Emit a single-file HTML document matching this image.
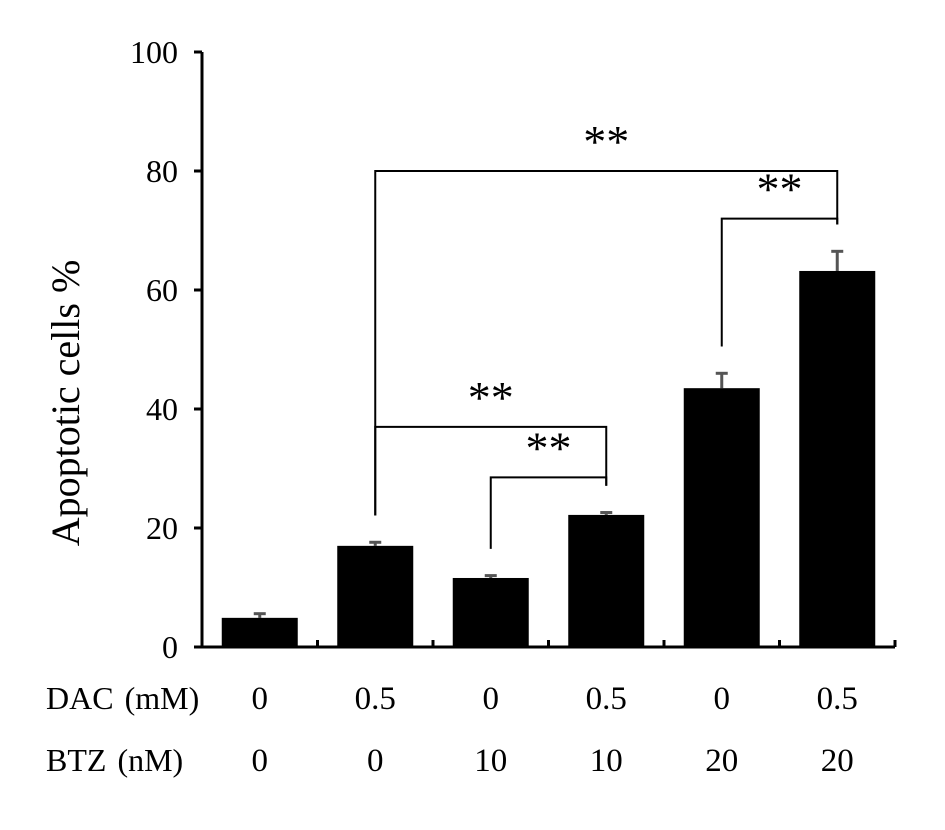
<!DOCTYPE html>
<html><head><meta charset="utf-8"><style>
body{margin:0;background:#fff}
svg text{font-family:"Liberation Serif",serif;fill:#000}
</style></head><body>
<svg id="chart" width="945" height="825" viewBox="0 0 945 825" xmlns="http://www.w3.org/2000/svg">
<text x="0" y="0" font-size="40" text-anchor="middle" transform="translate(79,403) rotate(-90)">Apoptotic cells %</text>
<g id="axes"></g><g id="bars"></g><g id="brackets"></g><g id="labels"></g>
</svg>
<script>
const categories=["c1","c2","c3","c4","c5","c6"];
const values=[4.9,17.0,11.6,22.2,43.5,63.2];
const errors=[0.7,0.6,0.4,0.4,2.5,3.3];
const dacLabels=["0","0.5","0","0.5","0","0.5"];
const btzLabels=["0","0","10","10","20","20"];
const yTicks=[0,20,40,60,80,100];
const comparisons=[[1,5,80],[4,5,72],[1,3,37],[2,3,28.5]];
const NS="http://www.w3.org/2000/svg";
const x0=202,slot=115.5,bw=76,yb=647,yt=52;
const y=v=>yb-(v/100)*(yb-yt);
const xc=i=>x0+slot*(i+0.5);
function mk(t,a,p){const e=document.createElementNS(NS,t);for(const k in a)e.setAttribute(k,a[k]);document.getElementById(p).appendChild(e);return e;}
let e=mk("line",{x1:x0,y1:yt,x2:x0,y2:yb,stroke:"#000","stroke-width":3},"axes");


e=mk("line",{x1:x0,y1:yb,x2:x0+slot*6,y2:yb,stroke:"#000","stroke-width":3},"axes");


yTicks.forEach(t=>{
 let l=mk("line",{x1:x0-8,y1:y(t),x2:x0,y2:y(t),stroke:"#000","stroke-width":3},"axes");
 
 
 let tx=mk("text",{x:178,y:y(t)+11,"font-size":32,"text-anchor":"end"},"axes");
 tx.textContent=t;
 
 
});
for(let i=1;i<=6;i++){
 let l=mk("line",{x1:x0+slot*i,y1:yb,x2:x0+slot*i,y2:yb-7,stroke:"#000","stroke-width":3},"axes");
 
 
}
values.forEach((v,i)=>{
 let ev=mk("line",{x1:xc(i),y1:y(v),x2:xc(i),y2:y(v+errors[i]),stroke:"#555","stroke-width":3},"bars");
 
 
 let ec=mk("line",{x1:xc(i)-6,y1:y(v+errors[i]),x2:xc(i)+6,y2:y(v+errors[i]),stroke:"#555","stroke-width":3},"bars");
 
 
 let r=mk("rect",{x:xc(i)-bw/2,y:y(v),width:bw,height:yb-y(v),fill:"#000"},"bars");
 
 
 let a=mk("text",{x:xc(i),y:709,"font-size":33,"text-anchor":"middle"},"labels");
 a.textContent=dacLabels[i];
 
 
 let b=mk("text",{x:xc(i),y:771,"font-size":33,"text-anchor":"middle"},"labels");
 b.textContent=btzLabels[i];
 
 
});
comparisons.forEach(c=>{
 const [a,b,h]=c;
 const gap=4.5;
 const p=mk("path",{d:`M${xc(a)},${y(values[a]+errors[a]+gap)}V${y(h)}H${xc(b)}V${y(values[b]+errors[b]+gap)}`,fill:"none",stroke:"#000","stroke-width":2},"brackets");
 
 
 const s=mk("text",{x:(xc(a)+xc(b))/2,y:y(h)-14,"font-size":46,"text-anchor":"middle"},"brackets");
 s.textContent="**";
 
 
});
let d=mk("text",{x:46,y:709,"font-size":32,"word-spacing":3},"labels");d.textContent="DAC (mM)";


let bt=mk("text",{x:46,y:771,"font-size":32,"word-spacing":3},"labels");bt.textContent="BTZ (nM)";


</script>
</body></html>
